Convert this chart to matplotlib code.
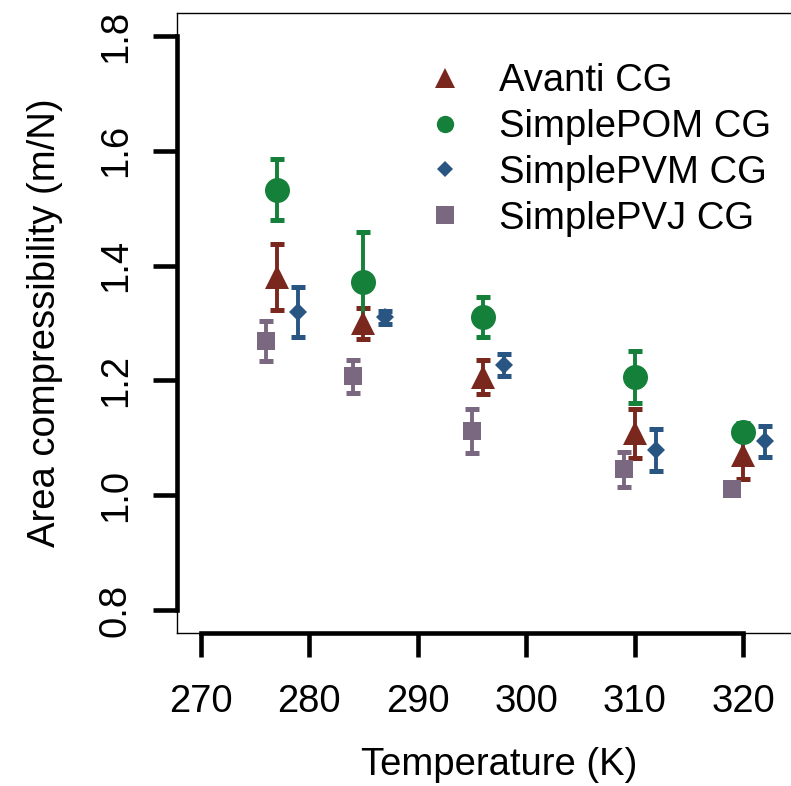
import matplotlib
matplotlib.use("Agg")
import matplotlib.pyplot as plt
from matplotlib.lines import Line2D

# ------------------------------------------------------------
# Data
# ------------------------------------------------------------
series_names = ["Avanti CG", "SimplePOM CG", "SimplePVM CG", "SimplePVJ CG"]

avanti_T = [277, 285, 296, 310, 320]
avanti_val = [1.380, 1.300, 1.206, 1.108, 1.070]
avanti_err = [0.057, 0.027, 0.030, 0.043, 0.042]

pom_T = [277, 285, 296, 310, 320]
pom_val = [1.532, 1.371, 1.311, 1.206, 1.111]
pom_err = [0.053, 0.087, 0.035, 0.046, 0.015]

pvm_T = [279, 287, 298, 312, 322]
pvm_val = [1.319, 1.310, 1.227, 1.079, 1.094]
pvm_err = [0.043, 0.011, 0.019, 0.036, 0.027]

pvj_T = [276, 284, 295, 309, 319]
pvj_val = [1.269, 1.207, 1.112, 1.045, 1.010]
pvj_err = [0.035, 0.029, 0.038, 0.031, 0.005]

x_ticks = [270, 280, 290, 300, 310, 320]
y_ticks = [0.8, 1.0, 1.2, 1.4, 1.6, 1.8]

# ------------------------------------------------------------
# Style
# ------------------------------------------------------------
plt.rcParams["font.family"] = ["Liberation Sans", "DejaVu Sans"]
FS = 27.5

colors = ["#7a281e", "#14803a", "#285582", "#7a6880"]
markers = ["^", "o", "D", "s"]
msizes = [17.0, 18.0, 9.0, 12.5]
leg_msizes = [14.5, 12.5, 8.5, 12.5]

W, H = 791, 786
fig = plt.figure(figsize=(W / 100, H / 100), dpi=100)
ax = fig.add_axes([177 / W, (H - 633) / H, (821 - 177) / W, (633 - 13) / H])

xs = [avanti_T, pom_T, pvm_T, pvj_T]
ys = [avanti_val, pom_val, pvm_val, pvj_val]
es = [avanti_err, pom_err, pvm_err, pvj_err]

# error bars first, points on top
for x, y, e, c in zip(xs, ys, es, colors):
    eb = ax.errorbar(x, y, yerr=e, fmt="none", ecolor=c, elinewidth=2.8,
                     capsize=5.0, capthick=3.6, zorder=2)
    for cap in eb[1]:
        cap.set_solid_capstyle("round")

for x, y, c, m, ms in zip(xs, ys, colors, markers, msizes):
    ax.plot(x, y, linestyle="none", marker=m, markersize=ms, color=c,
            markeredgewidth=0, zorder=3)

ax.set_xlim(267.8, 327.2)
ax.set_ylim(0.76, 1.84)

# thin box
for sp in ax.spines.values():
    sp.set_linewidth(1.0)

# thick axis lines between first and last tick
ax.plot([x_ticks[0], x_ticks[-1]], [0.76, 0.76], color="black", lw=3.3,
        clip_on=False, zorder=4, solid_capstyle="projecting")
ax.plot([267.8, 267.8], [y_ticks[0], y_ticks[-1]], color="black", lw=3.3,
        clip_on=False, zorder=4, solid_capstyle="projecting")

ax.set_xticks(x_ticks)
ax.set_yticks(y_ticks)
ax.set_xticklabels([str(t) for t in x_ticks])
ax.set_yticklabels(["%.1f" % t for t in y_ticks], rotation=90, va="center")
ax.tick_params(axis="both", direction="out", length=17, width=3.3,
               labelsize=FS)
ax.tick_params(axis="x", pad=20)
ax.tick_params(axis="y", pad=14)

ax.set_xlabel("Temperature (K)", fontsize=FS, labelpad=19)
ax.set_ylabel("Area compressibility (m/N)", fontsize=FS, labelpad=25)

# legend
handles = [Line2D([], [], linestyle="none", marker=m, markersize=ms,
                  color=c, markeredgewidth=0)
           for m, ms, c in zip(markers, leg_msizes, colors)]
fig.legend(handles, series_names, loc="upper left",
           bbox_to_anchor=(426 / W, 1 - 63 / H), frameon=False,
           fontsize=FS, handlelength=1.0, handletextpad=0.9,
           labelspacing=0.26, borderpad=0, borderaxespad=0)

fig.savefig("out.png", dpi=100)
